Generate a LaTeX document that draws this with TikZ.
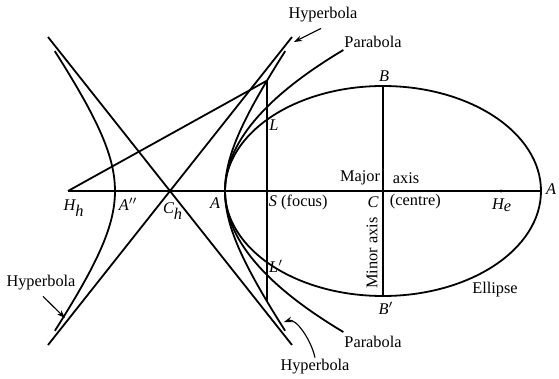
\documentclass[tikz,border=0pt]{standalone}
\usepackage{fontspec}
\setmainfont{Liberation Serif}
\usetikzlibrary{arrows.meta}
\begin{document}
\begin{tikzpicture}[
  x=0.612pt, y=-0.612pt,
  curve/.style={line width=1.1pt},
  lbl/.style={font=\itshape, inner sep=1pt},
  word/.style={inner sep=1pt},
  pointer/.style={line width=0.7pt, -{Stealth[length=5pt, width=3.5pt]}}
]
\useasboundingbox (0,0) rectangle (559,379);
\coordinate (Hh) at (68,191);
\coordinate (Ch) at (170,191);
\coordinate (A1) at (225,191);
\coordinate (S) at (267,191);
\coordinate (C) at (383,191);
\coordinate (He) at (501,191);
\coordinate (A2) at (541,191);
\coordinate (B) at (383,86);
\coordinate (B2) at (383,296);
\coordinate (LT) at (267,80.6);
\coordinate (LB) at (267,301.4);
\coordinate (Q1) at (292,37);
\coordinate (Q2) at (48,37);
\coordinate (Q3) at (48,345);
\coordinate (Q4) at (292,345);
\coordinate (hypT) at (294,42);
\coordinate (hypL) at (65,318);
\coordinate (hypB) at (284,322);
\draw[curve] (Hh) -- (A2);
\draw[curve] (C) ellipse [x radius=158, y radius=105];
\draw[curve] (B) -- (B2);
\draw[curve] (LT) -- (LB);
\draw[curve] (Hh) -- (LT);
\draw[curve] (Q1) -- (Q3);
\draw[curve] (Q2) -- (Q4);
\draw[curve] plot[domain=-141:141, samples=61] ({225+(\x/10)*(\x/10)/1.68},{191+\x});
\draw[curve] plot[domain=-1.37:1.37, samples=61] ({170+55*cosh(\x)},{191+76*sinh(\x)});
\draw[curve] plot[domain=-1.37:1.37, samples=61] ({170-55*cosh(\x)},{191+76*sinh(\x)});
\fill (He) circle [radius=1.6];
\fill (Ch) circle [radius=1.3];
\node[lbl] (hh) at (74,208) {H$_{\textit{h}}$};
\node[lbl] (a3) at (128,204) {A$''$};
\node[lbl] (ch) at (173,211) {C$_{\textit{h}}$};
\node[lbl] (a1) at (215,203) {A};
\node[word, anchor=west] (s) at (267,202) {\textit{S} (focus)};
\node[lbl] (c) at (373,202) {C};
\node[word, anchor=west] (centre) at (388,202) {(centre)};
\node[lbl] (he) at (502,205) {H$_{\textit{e}}$};
\node[lbl] (a2) at (551,189) {A};
\node[lbl] (b) at (384,76) {B};
\node[lbl] (b2) at (386,308) {B$'$};
\node[lbl] (l) at (274,125) {L};
\node[lbl] (l2) at (276,266) {L$'$};
\node[word] (major) at (360,178) {Major};
\node[word] (axis) at (406,178) {axis};
\node[word, rotate=90] (minor) at (372,253) {Minor axis};
\node[word] (ellipse) at (495,290) {Ellipse};
\node[word] (parT) at (373,42) {Parabola};
\node[word] (parB) at (373,342) {Parabola};
\node[word] (hypTl) at (323,15) {Hyperbola};
\node[word] (hypBl) at (315,367) {Hyperbola};
\node[word] (hypLl) at (41,283) {Hyperbola};
\draw[pointer] (hypTl.south) ++(-2,4) -- (hypT);
\draw[pointer] (hypLl.south) ++(2,4) -- (hypL);
\draw[pointer] (hypBl.north) .. controls +(-4,-18) and +(12,-4) .. (hypB);
\end{tikzpicture}
\end{document}
